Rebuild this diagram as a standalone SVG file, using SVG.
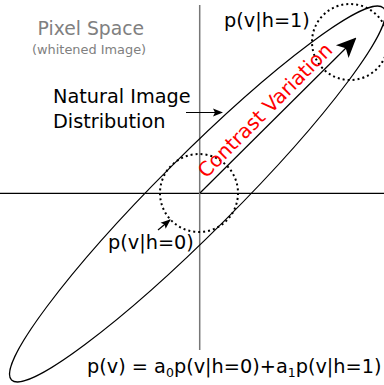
<svg xmlns="http://www.w3.org/2000/svg" width="384" height="385" viewBox="0 0 384 385">
<style>
text{font-family:"DejaVu Sans",sans-serif;font-size:19.3px;fill:#000}
.gray{fill:#808080}
.dot{fill:none;stroke:#000;stroke-width:2;stroke-dasharray:2 3}
.ln{fill:none;stroke:#000;stroke-width:1.2}
</style>
<defs>
<marker id="ah" viewBox="0 0 10 10" refX="9" refY="5" markerWidth="10" markerHeight="10" markerUnits="userSpaceOnUse" orient="auto"><path d="M0,1 L10,5 L0,9 L2,5 Z" fill="#000"/></marker>
<marker id="ahb" viewBox="0 0 10 10" refX="9" refY="5" markerWidth="20" markerHeight="20" markerUnits="userSpaceOnUse" orient="auto"><path d="M0,0.5 L10,5 L0,9.5 L2.5,5 Z" fill="#000"/></marker>
</defs>
<g id="axes">
<line x1="0" y1="193.3" x2="384" y2="193.3" stroke="#000" stroke-width="1.2"/>
<line x1="199.7" y1="5" x2="199.7" y2="350" stroke="#777" stroke-width="1.5"/>
</g>
<g id="title">
<text x="37.5" y="35" class="gray" style="font-size:18.8px">Pixel Space</text>
<text x="32" y="54" class="gray" style="font-size:12.9px">(whitened Image)</text>
</g>
<g id="distribution">
<ellipse cx="197.5" cy="194" rx="263" ry="38" class="ln" transform="rotate(-45 197.5 194)"/>
</g>
<g id="h0">
<circle cx="199" cy="193" r="39" class="dot"/>
</g>
<g id="h1">
<circle cx="350" cy="42" r="38" class="dot"/>
</g>
<g id="connectors">
<line x1="200" y1="193" x2="355" y2="39" class="ln" stroke-width="1.4" marker-end="url(#ahb)"/>
<line x1="186" y1="112.5" x2="222" y2="112.5" class="ln" marker-end="url(#ah)"/>
<line x1="158" y1="230" x2="170" y2="220" class="ln" marker-end="url(#ah)"/>
</g>
<g id="labels">
<text x="53" y="103">Natural Image</text>
<text x="53" y="128">Distribution</text>
<text x="224" y="27">p(v|h=1)</text>
<text x="108" y="249">p(v|h=0)</text>
<text x="87" y="373">p(v) = a<tspan dy="4" style="font-size:12.5px">0</tspan><tspan dy="-4">p(v|h=0)+a</tspan><tspan dy="4" style="font-size:12.5px">1</tspan><tspan dy="-4">p(v|h=1)</tspan></text>
<text transform="translate(206,179) rotate(-45)" style="fill:#f00;font-size:20px">Contrast Variation</text>
</g>
</svg>
